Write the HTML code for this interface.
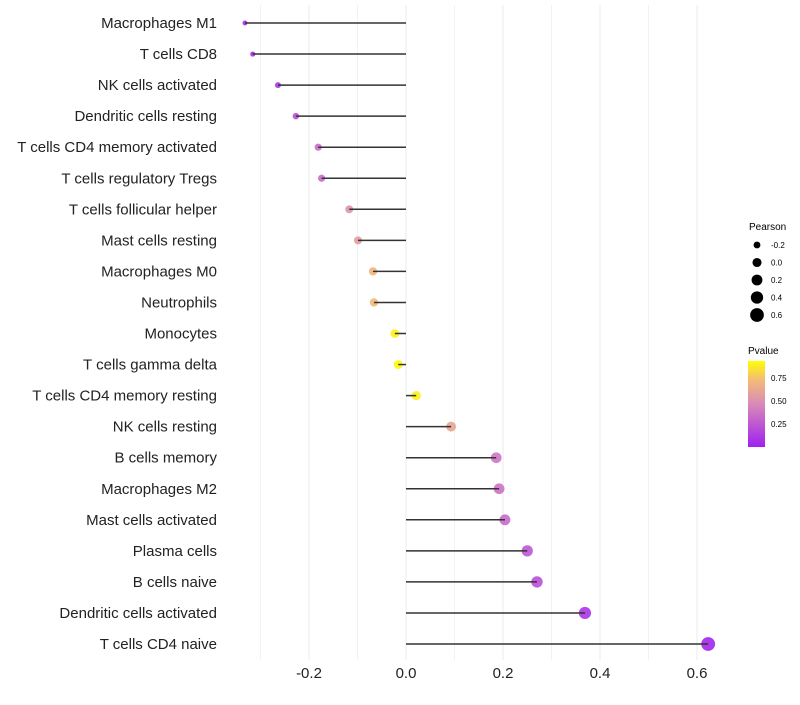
<!DOCTYPE html>
<html><head><meta charset="utf-8"><style>
body{margin:0;background:#fff;}
svg text{font-family:"Liberation Sans",sans-serif;}
</style></head><body>
<svg id="chart" width="800" height="700" xmlns="http://www.w3.org/2000/svg">
<defs><linearGradient id="pg" x1="0" y1="1" x2="0" y2="0">
<stop offset="0" stop-color="#a020f0"/><stop offset="0.5" stop-color="#d88ab8"/><stop offset="0.8" stop-color="#f5c070"/><stop offset="1" stop-color="#ffff00"/></linearGradient></defs>
<g id="grid"></g><g id="marks"></g><g id="labels"></g>
<g>
<text x="749" y="230" font-size="10">Pearson</text>
<g id="sizeleg"></g></g>
<g>
<text x="748" y="354" font-size="10">Pvalue</text>
<rect x="748" y="361" width="17" height="86" fill="url(#pg)"/>
<text x="771" y="381" font-size="8">0.75</text>
<text x="771" y="404" font-size="8">0.50</text>
<text x="771" y="427" font-size="8">0.25</text>
</g>
</svg>
<script>
const categories=["Macrophages M1","T cells CD8","NK cells activated","Dendritic cells resting","T cells CD4 memory activated","T cells regulatory  Tregs","T cells follicular helper","Mast cells resting","Macrophages M0","Neutrophils","Monocytes","T cells gamma delta","T cells CD4 memory resting","NK cells resting","B cells memory","Macrophages M2","Mast cells activated","Plasma cells","B cells naive","Dendritic cells activated","T cells CD4 naive"];
const pearson=[-0.332,-0.316,-0.264,-0.227,-0.181,-0.174,-0.117,-0.099,-0.068,-0.066,-0.023,-0.016,0.021,0.093,0.186,0.192,0.204,0.25,0.27,0.369,0.623];
const pvalues=[0.05,0.06,0.12,0.22,0.36,0.36,0.55,0.6,0.75,0.76,0.9,0.92,0.9,0.65,0.4,0.38,0.35,0.25,0.22,0.1,0.03];
const xTicks=[-0.2,0,0.2,0.4,0.6];
const minorTicks=[-0.3,-0.1,0.1,0.3,0.5];
const sizeLegend=[-0.2,0,0.2,0.4,0.6];
const NS="http://www.w3.org/2000/svg";
const x=v=>406+v*485;
const y=i=>23+i*31.05;
const r=v=>Math.sqrt(Math.max(2,6+44*(v+0.332)));
const stops=[[0,[160,32,240]],[0.5,[216,138,184]],[0.8,[245,192,112]],[0.93,[255,255,0]]];
function col(p){p=Math.max(0,Math.min(0.93,p));for(let k=1;k<stops.length;k++){if(p<=stops[k][0]){const a=stops[k-1],b=stops[k],t=(p-a[0])/(b[0]-a[0]);return 'rgb('+a[1].map((c,j)=>Math.round(c+(b[1][j]-c)*t)).join(',')+')';}}return 'rgb(255,255,0)';}
function mk(t,a,p){const e=document.createElementNS(NS,t);for(const k in a)e.setAttribute(k,a[k]);p.appendChild(e);return e;}
const grid=document.getElementById('grid'),marks=document.getElementById('marks'),labels=document.getElementById('labels');
minorTicks.forEach(v=>{const l=mk('line',{x1:x(v),x2:x(v),y1:5,y2:660,stroke:'#f2f2f2','stroke-width':1},grid);

});
xTicks.forEach(v=>{const l=mk('line',{x1:x(v),x2:x(v),y1:5,y2:660,stroke:'#ebebeb','stroke-width':1},grid);


const t=mk('text',{x:x(v),y:678,'font-size':15,'text-anchor':'middle',fill:'#222'},labels);t.textContent=v===0?'0.0':v.toFixed(1);

});
categories.forEach((c,i)=>{
const t=mk('text',{x:217,y:y(i)+5,'font-size':15,'text-anchor':'end',fill:'#222'},labels);t.textContent=c;


const d=mk('circle',{cx:x(pearson[i]),cy:y(i),r:r(pearson[i]),fill:col(pvalues[i]),'fill-opacity':0.9},marks);


const l=mk('line',{x1:x(0),x2:x(pearson[i]),y1:y(i),y2:y(i),stroke:'#333','stroke-width':1.5},marks);

});
const sl=document.getElementById('sizeleg');
sizeLegend.forEach((v,k)=>{const yy=245+k*17.5;
const c=mk('circle',{cx:757,cy:yy,r:r(v),fill:'#000'},sl);


const t=mk('text',{x:771,y:yy+3,'font-size':8},sl);t.textContent=v===0?'0.0':v.toFixed(1);

});
</script>
</body></html>
